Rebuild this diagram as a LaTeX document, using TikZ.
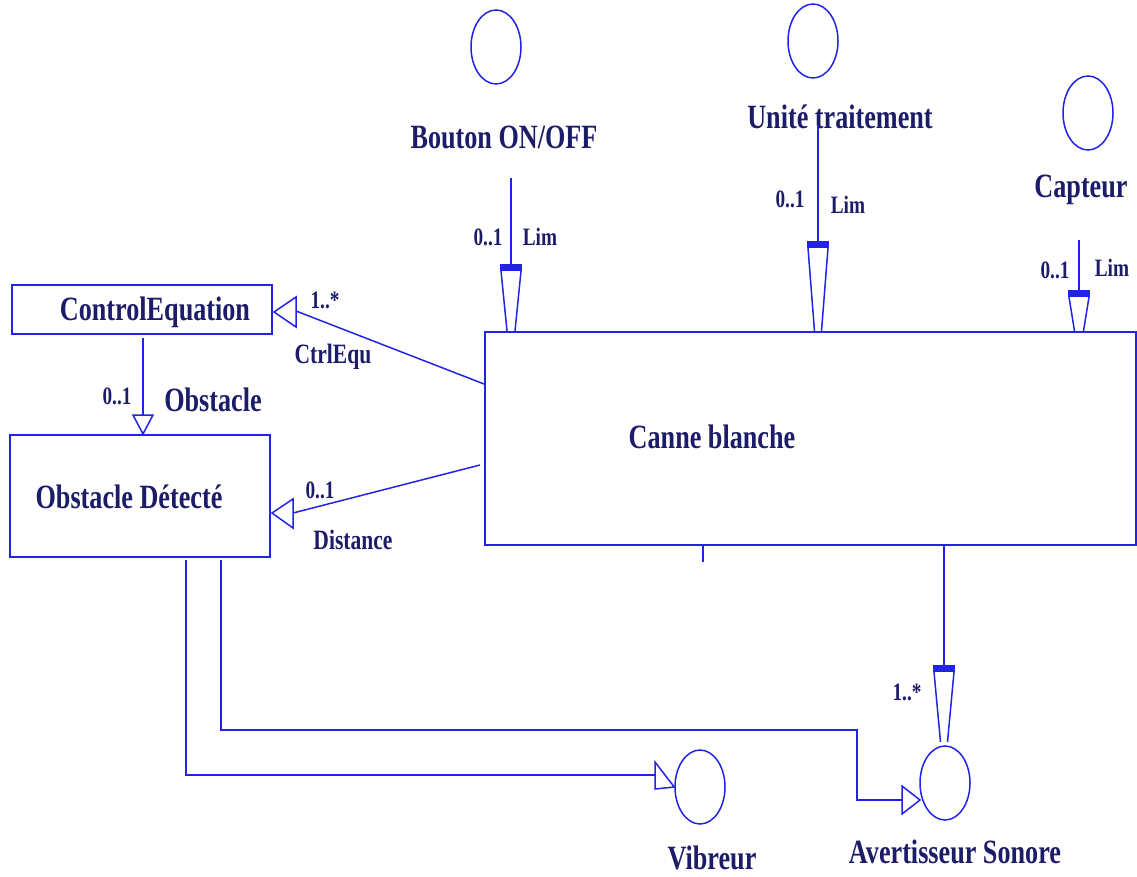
\documentclass[tikz,border=0pt]{standalone}
\usepackage{fontspec}
\setmainfont{Liberation Serif}[FakeStretch=0.77]
\usetikzlibrary{shapes.geometric,calc}
\definecolor{ln}{RGB}{35,35,230}
\definecolor{tx}{RGB}{28,28,105}
\newcommand\navend[3]{% #1 bar top, #2 tip, #3 half width at tip
  \fill[ln] ([xshift=-11pt]#1) rectangle ([xshift=11pt,yshift=-7pt]#1);
  \draw[conn] ([xshift=-10pt,yshift=-7pt]#1) -- ([xshift=-#3]#2)
              ([xshift=10pt,yshift=-7pt]#1) -- ([xshift=#3]#2);}
\begin{document}
\begin{tikzpicture}[x=1pt,y=-1pt,
  box/.style={draw=ln,line width=1.8pt,inner sep=0pt},
  iface/.style={ellipse,draw=ln,line width=1.5pt,minimum width=50pt,minimum height=74pt,inner sep=0pt},
  conn/.style={draw=ln,line width=1.5pt},
  gen/.style={draw=ln,line width=1.5pt,fill=white,line join=miter},
  big/.style={text=tx,inner sep=0pt,font=\fontsize{34}{34}\selectfont\bfseries},
  mid/.style={text=tx,inner sep=0pt,font=\fontsize{28}{28}\selectfont\bfseries},
  small/.style={text=tx,inner sep=0pt,font=\fontsize{25}{25}\selectfont\bfseries}]
\useasboundingbox (0,0) rectangle (1137,877);

% classes
\node[box,minimum width=651pt,minimum height=213pt] (canne) at (810.5,438.5) {};
\node[big] (canneL) at (712,437) {Canne blanche};
\node[box,minimum width=260pt,minimum height=49pt] (ctrl) at (142,309.5) {};
\node[big] (ctrlL) at (155,312) {ControlEquation};
\node[box,minimum width=260pt,minimum height=122pt] (obs) at (140,496) {};
\node[big] (obsL) at (129,497) {Obstacle Détecté};

% interfaces
\node[iface] (bouton) at (496,47) {};
\node[big] (boutonL) at (504,137) {Bouton ON/OFF};
\node[iface] (unite) at (813,41) {};
\node[big] (uniteL) at (840,117) {Unité traitement};
\node[iface] (capteur) at (1088,113) {};
\node[big] (capteurL) at (1081,190) {Capteur};
\node[iface] (vibreur) at (700,787) {};
\node[big] (vibreurL) at (712,858) {Vibreur};
\node[iface] (avert) at (945,783) {};
\node[big] (avertL) at (955,852) {Avertisseur Sonore};

% Bouton -> Canne
\coordinate (b1) at (511,178);
\coordinate (b2) at (511,264);
\coordinate (b3) at (b2 |- canne.north);
\draw[conn] (b1) -- (b2);
\navend{b2}{b3}{4pt}
\node[small] at (488,237) {0..1};
\node[small] at (540,237) {Lim};

% Unite -> Canne
\coordinate (u1) at (818,125);
\coordinate (u2) at (818,241);
\coordinate (u3) at (u2 |- canne.north);
\draw[conn] (u1) -- (u2);
\navend{u2}{u3}{3.5pt}
\node[small] at (790,199) {0..1};
\node[small] at (848,205) {Lim};

% Capteur -> Canne
\coordinate (k1) at (1079,240);
\coordinate (k2) at (1079,290);
\coordinate (k3) at (k2 |- canne.north);
\draw[conn] (k1) -- (k2);
\navend{k2}{k3}{4.5pt}
\node[small] at (1055,270) {0..1};
\node[small] at (1112,268) {Lim};

% Canne -> Avertisseur
\coordinate (a1) at (944,665);
\coordinate (a2) at (944,742);
\draw[conn] (a1 |- canne.south) -- (a1);
\navend{a1}{a2}{3.5pt}
\node[small] at (907,692) {1..*};
\draw[conn] (703,545) -- (703,562);

% Canne -> ControlEquation
\coordinate (c1) at (484,384);
\coordinate (c2) at (296,311);
\draw[conn] (c1) -- (c2);
\draw[gen] (274,312) -- (296,297) -- (296,327) -- cycle;
\node[small] at (325,300) {1..*};
\node[mid] at (333,357) {CtrlEqu};

% Canne -> Obstacle Detecte
\coordinate (d1) at (480,465);
\coordinate (d2) at (293,513);
\draw[conn] (d1) -- (d2);
\draw[gen] (272,513) -- (293,499) -- (293,528) -- cycle;
\node[small] at (320,490) {0..1};
\node[mid] at (353,540) {Distance};

% ControlEquation -> Obstacle Detecte
\coordinate (o1) at (143,338);
\coordinate (o2) at (143,415);
\draw[conn] (o1) -- (o2);
\draw[gen] (143,434) -- (133,415) -- (153,415) -- cycle;
\node[small] at (117,396) {0..1};
\node[big] at (213,400) {Obstacle};

% Obstacle Detecte -> Vibreur
\coordinate (v1) at (186,560);
\coordinate (v2) at (655,775);
\draw[conn] (v1) |- (v2);
\draw[gen] (vibreur.west) -- (655,762) -- (655,789) -- cycle;

% Obstacle Detecte -> Avertisseur
\coordinate (w1) at (221,560);
\coordinate (w2) at (857,730);
\coordinate (w3) at (902,800);
\draw[conn] (w1) |- (w2) |- (w3);
\draw[gen] (920,800) -- (902,786) -- (902,814) -- cycle;
\end{tikzpicture}
\end{document}
